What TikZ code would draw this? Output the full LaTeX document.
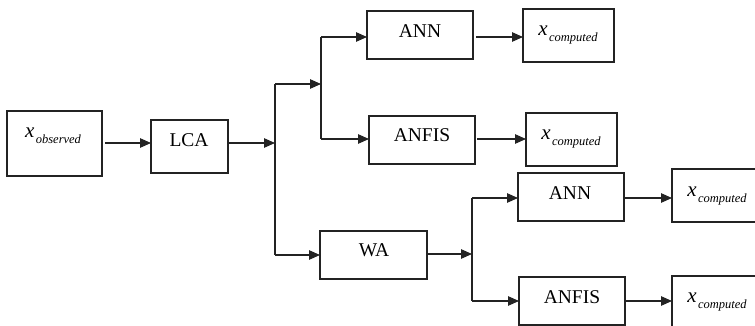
\documentclass[tikz,border=0pt]{standalone}
\usepackage{fontspec}
\setmainfont{Liberation Serif}
\usetikzlibrary{arrows.meta}
\definecolor{ink}{RGB}{35,35,35}
\tikzset{
  boxnode/.style={draw=ink, line width=1.1pt, inner sep=0pt},
  lbl/.style={inner sep=0pt, font=\fontsize{19.5}{22}\selectfont},
  conn/.style={draw=ink, line width=1.1pt},
  arr/.style={conn, -{Triangle[length=11pt,width=9.5pt]}}
}
\newcommand{\xsub}[1]{{\fontsize{21}{24}\selectfont\itshape x}\kern1.5pt\raisebox{-6pt}{\fontsize{12.5}{14}\selectfont\itshape #1}}
\begin{document}
\begin{tikzpicture}[x=1pt,y=-1pt]
\path[use as bounding box, clip] (0,0) rectangle (755,326);
% boxes
\path[boxnode] (7,111) rectangle (102,176);
\node[lbl] (obs) at (53,136) {\xsub{observed}};
\path[boxnode] (151,120) rectangle (228,173);
\node[lbl] (lca) at (189,140) {LCA};
\path[boxnode] (367,11) rectangle (473,59);
\node[lbl] (ann1) at (420,31) {ANN};
\path[boxnode] (369,116) rectangle (475,164);
\node[lbl] (anfis1) at (422,135) {ANFIS};
\path[boxnode] (523,9) rectangle (614,62);
\node[lbl] (xc1) at (568,35) {\xsub{computed}};
\path[boxnode] (526,113) rectangle (617,166);
\node[lbl] (xc2) at (571,139) {\xsub{computed}};
\path[boxnode] (320,231) rectangle (427,279);
\node[lbl] (wa) at (374,250) {WA};
\path[boxnode] (518,173) rectangle (624,221);
\node[lbl] (ann2) at (570,193) {ANN};
\path[boxnode] (519,277) rectangle (625,325);
\node[lbl] (anfis2) at (572,297) {ANFIS};
\path[boxnode] (672,169) rectangle (775,222);
\node[lbl] (xc3) at (717,196) {\xsub{computed}};
\path[boxnode] (672,276) rectangle (775,345);
\node[lbl] (xc4) at (717,302) {\xsub{computed}};
% junction coordinates
\coordinate (a1) at (105,143);
\coordinate (a2) at (151,143);
\coordinate (b1) at (228,143);
\coordinate (j1) at (275,143);
\coordinate (j1t) at (275,84);
\coordinate (j1b) at (275,255);
\coordinate (j2) at (321,84);
\coordinate (j2t) at (321,37);
\coordinate (j2b) at (321,139);
\coordinate (ann1w) at (367,37);
\coordinate (anfis1w) at (369,139);
\coordinate (ann1e) at (476,37);
\coordinate (xc1w) at (523,37);
\coordinate (anfis1e) at (477,139);
\coordinate (xc2w) at (526,139);
\coordinate (waw) at (320,255);
\coordinate (wae) at (427,254);
\coordinate (j3) at (472,254);
\coordinate (j3t) at (472,198);
\coordinate (j3b) at (472,301);
\coordinate (ann2w) at (518,198);
\coordinate (anfis2w) at (519,301);
\coordinate (ann2e) at (625,198);
\coordinate (xc3w) at (672,198);
\coordinate (anfis2e) at (626,301);
\coordinate (xc4w) at (672,301);
% connectors
\draw[arr] (a1) -- (a2);
\draw[arr] (b1) -- (j1);
\draw[conn] (j1t) -- (j1b);
\draw[arr] (j1t) -- (j2);
\draw[conn] (j2t) -- (j2b);
\draw[arr] (j2t) -- (ann1w);
\draw[arr] (j2b) -- (anfis1w);
\draw[arr] (ann1e) -- (xc1w);
\draw[arr] (anfis1e) -- (xc2w);
\draw[arr] (j1b) -- (waw);
\draw[arr] (wae) -- (j3);
\draw[conn] (j3t) -- (j3b);
\draw[arr] (j3t) -- (ann2w);
\draw[arr] (j3b) -- (anfis2w);
\draw[arr] (ann2e) -- (xc3w);
\draw[arr] (anfis2e) -- (xc4w);
\end{tikzpicture}
\end{document}
